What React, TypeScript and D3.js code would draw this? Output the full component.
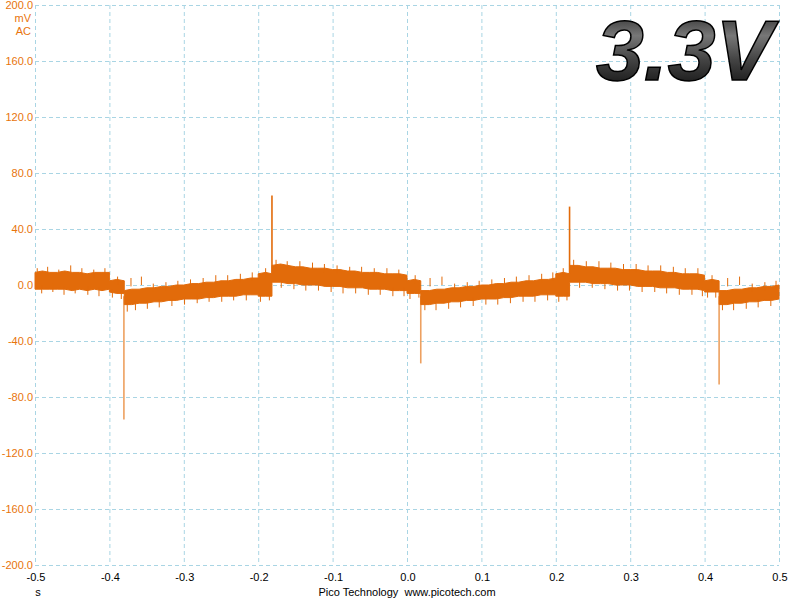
import * as d3 from "d3";

// y axis: mV, x axis: seconds
const yTicks = [200, 160, 120, 80, 40, 0, -40, -80, -120, -160, -200];
const xTicks = [-0.5, -0.4, -0.3, -0.2, -0.1, 0, 0.1, 0.2, 0.3, 0.4, 0.5];

// noisy band envelope (duplicate times = vertical steps)
const sampleT = [
  -0.5, -0.49, -0.48, -0.47, -0.46, -0.45, -0.44, -0.43, -0.42, -0.41, -0.4,
  -0.4, -0.39, -0.38,
  -0.38, -0.37, -0.36, -0.35, -0.34, -0.33, -0.32, -0.31, -0.3, -0.29, -0.28, -0.27, -0.26, -0.25, -0.24, -0.23, -0.22, -0.21, -0.2,
  -0.2, -0.19, -0.1815,
  -0.1815, -0.17, -0.16, -0.15, -0.14, -0.13, -0.12, -0.11, -0.1, -0.09, -0.08, -0.07, -0.06, -0.05, -0.04, -0.03, -0.02, -0.01, 0,
  0, 0.01, 0.0185,
  0.0185, 0.03, 0.04, 0.05, 0.06, 0.07, 0.08, 0.09, 0.1, 0.11, 0.12, 0.13, 0.14, 0.15, 0.16, 0.17, 0.18, 0.19, 0.2,
  0.2, 0.21, 0.2185,
  0.2185, 0.23, 0.24, 0.25, 0.26, 0.27, 0.28, 0.29, 0.3, 0.31, 0.32, 0.33, 0.34, 0.35, 0.36, 0.37, 0.38, 0.39, 0.4,
  0.4, 0.41, 0.4195,
  0.4195, 0.43, 0.44, 0.45, 0.46, 0.47, 0.48, 0.49, 0.5,
];
const upperMv = [
  9, 10, 9, 9, 10, 9, 9, 8, 9, 9, 9,
  3, 4, 3,
  -4, -3, -3, -2, -2, -1, -1, 0, 0, 1, 1, 2, 2, 3, 3, 4, 4, 5, 5,
  8, 9, 8,
  14, 15, 14, 13, 13, 12, 12, 12, 11, 11, 10, 10, 9, 9, 9, 8, 8, 8, 7,
  3, 4, 3,
  -4, -4, -3, -3, -2, -2, -1, -1, 0, 0, 1, 1, 2, 2, 3, 3, 4, 4, 5,
  8, 9, 8,
  14, 14, 13, 13, 12, 12, 12, 11, 11, 11, 10, 10, 10, 9, 9, 8, 8, 8, 7,
  3, 4, 3,
  -4, -4, -3, -3, -2, -2, -1, -1, 0,
];
const lowerMv = [
  -3, -3, -3, -3, -3, -4, -3, -4, -3, -4, -3,
  -5, -6, -6,
  -14, -14, -13, -13, -12, -12, -11, -11, -10, -10, -10, -9, -9, -8, -8, -8, -7, -7, -7,
  -8, -8, -8,
  2, 2, 1, 1, 0, 0, 0, -1, -1, -1, -2, -2, -2, -3, -3, -3, -4, -4, -4,
  -6, -6, -6,
  -14, -14, -13, -13, -12, -12, -11, -11, -10, -10, -10, -9, -9, -8, -8, -8, -7, -7, -7,
  -8, -8, -8,
  2, 2, 2, 1, 1, 1, 0, 0, 0, -1, -1, -1, -2, -2, -2, -3, -3, -3, -4,
  -5, -5, -5,
  -14, -14, -13, -13, -12, -12, -11, -11, -10,
];

// isolated noise excursions sticking out of the band
const noiseT = [
  -0.497, -0.491, -0.483, -0.476, -0.468, -0.461, -0.452, -0.446, -0.437, -0.429, -0.421, -0.414, -0.406,
  -0.396, -0.389, -0.384,
  -0.376, -0.371, -0.365, -0.357, -0.349, -0.341, -0.333, -0.324, -0.316, -0.308, -0.299, -0.291, -0.282,
  -0.274, -0.266, -0.257, -0.249, -0.241, -0.233, -0.224, -0.216, -0.208,
  -0.197, -0.19, -0.185,
  -0.176, -0.169, -0.161, -0.152, -0.144, -0.136, -0.127, -0.119, -0.111, -0.102, -0.094, -0.086, -0.077,
  -0.069, -0.061, -0.052, -0.044, -0.036, -0.027, -0.019, -0.011, -0.004,
  0.004, 0.011, 0.016,
  0.024, 0.031, 0.039, 0.047, 0.056, 0.064, 0.072, 0.081, 0.089, 0.097, 0.106, 0.114, 0.122,
  0.131, 0.139, 0.147, 0.156, 0.164, 0.172, 0.181, 0.189, 0.196,
  0.204, 0.21, 0.215,
  0.224, 0.232, 0.241, 0.249, 0.258, 0.266, 0.274, 0.283, 0.291, 0.299, 0.308, 0.316, 0.324,
  0.333, 0.341, 0.349, 0.358, 0.366, 0.374, 0.383, 0.391, 0.397,
  0.404, 0.41, 0.415,
  0.424, 0.431, 0.439, 0.447, 0.456, 0.464, 0.472, 0.481, 0.489, 0.496,
];
const noiseMv = [
  12, -6, 13, -5, 11, -7, 14, -6, 12, -7, 11, -8, 12,
  -9, 6, -10,
  -19, -1, -18, 0, -17, 1, -16, 2, -15, 3, -14, 4, -13,
  5, -12, 7, -12, 7, -11, 8, -11, 9,
  -12, 12, -11,
  18, -2, 17, -3, 17, -4, 16, -4, 15, -5, 14, -6, 13,
  -6, 13, -7, 12, -7, 12, -8, 11, -8,
  -10, 7, -9,
  -18, -1, -18, 0, -17, 1, -16, 2, -15, 3, -14, 4, -14,
  5, -13, 6, -12, 7, -12, 8, -11, 9,
  -12, 12, -11,
  18, -2, 17, -2, 17, -3, 16, -4, 15, -4, 15, -5, 14,
  -5, 14, -6, 13, -7, 12, -7, 12, -8,
  -9, 7, -9,
  -18, -1, -18, 0, -17, 1, -16, 2, -15, 3,
];

// transient spikes at each step
const spikeT = [-0.3805, -0.1815, 0.0185, 0.2185, 0.4195];
const spikeMv = [-96, 64, -56, 56, -71];
const spikeBaseMv = [-8, 8, -8, 8, -8];

const W = 797;
const H = 598;
const left = 35;
const right = 779;
const top = 5;
const bottom = 565;

const traceColor = "#e26b0a";
const gridColor = "#a9d5e4";
const labelOrange = "#e8740c";

export default function App() {
  const x = d3.scaleLinear().domain([-0.5, 0.5]).range([left, right]);
  const y = d3.scaleLinear().domain([-200, 200]).range([bottom, top]);

  const idx = sampleT.map((_, i) => i);
  const band = d3
    .area<number>()
    .x((i) => x(sampleT[i]))
    .y0((i) => y(lowerMv[i]))
    .y1((i) => y(upperMv[i]));

  const font = "'Liberation Sans', Arial, sans-serif";

  return (
    <svg
      width={W}
      height={H}
      style={{ position: "absolute", left: 0, top: 0, background: "#fff" }}
    >
      <defs>
        <linearGradient id="bigText" x1="0" y1="0" x2="0" y2="1">
          <stop offset="0" stopColor="#111" />
          <stop offset="0.35" stopColor="#777" />
          <stop offset="0.6" stopColor="#444" />
          <stop offset="1" stopColor="#050505" />
        </linearGradient>
      </defs>

      {/* grid */}
      <g stroke={gridColor} strokeWidth={1} strokeDasharray="4,3" fill="none">
        {yTicks.map((v) => (
          <line key={"gy" + v} x1={left} x2={right} y1={y(v) + 0.5} y2={y(v) + 0.5} />
        ))}
        {xTicks.map((v) => (
          <line key={"gx" + v} x1={x(v) + 0.5} x2={x(v) + 0.5} y1={top} y2={bottom} />
        ))}
      </g>

      {/* y labels */}
      <g fontFamily={font} fontSize={11} fill={labelOrange} textAnchor="end">
        {yTicks.map((v) => (
          <text key={"ly" + v} x={33} y={y(v) + 4}>
            {v.toFixed(1)}
          </text>
        ))}
        <text x={31} y={22}>mV</text>
        <text x={31} y={35}>AC</text>
      </g>

      {/* x labels */}
      <g fontFamily={font} fontSize={11} fill="#000" textAnchor="middle">
        {xTicks.map((v) => (
          <text key={"lx" + v} x={x(v) + 1} y={581}>
            {v === 0 ? "0.0" : String(v)}
          </text>
        ))}
        <text x={38} y={596}>s</text>
        <text x={407} y={596} style={{ whiteSpace: "pre" }}>
          {"Pico Technology  www.picotech.com"}
        </text>
      </g>

      {/* big 3.3V label */}
      <text
        x={596}
        y={80}
        fontFamily={font}
        fontSize={86}
        fontStyle="italic"
        fontWeight="bold"
        fill="url(#bigText)"
        stroke="#000"
        strokeWidth={1.5}
      >
        3.3V
      </text>

      {/* spikes */}
      <g fill="none">
        {spikeT.map((t, i) => (
          <line
            key={"sp" + i}
            x1={x(t)}
            x2={x(t)}
            y1={y(spikeBaseMv[i])}
            y2={y(spikeMv[i])}
            stroke={spikeMv[i] < 0 ? "#eda060" : traceColor}
            strokeWidth={1.6}
          />
        ))}
      </g>

      {/* noise band */}
      <path d={band(idx) ?? ""} fill={traceColor} stroke={traceColor} strokeWidth={1} />
      <g stroke={traceColor} strokeWidth={1}>
        {noiseT.map((t, i) => (
          <line
            key={"nz" + i}
            x1={x(t)}
            x2={x(t)}
            y1={y(noiseMv[i] > 0 ? noiseMv[i] - 6 : noiseMv[i] + 6)}
            y2={y(noiseMv[i])}
          />
        ))}
      </g>
    </svg>
  );
}
